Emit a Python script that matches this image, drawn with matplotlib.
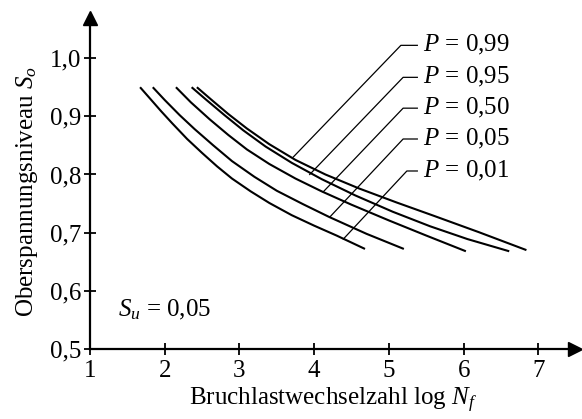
import matplotlib
matplotlib.use("Agg")
import matplotlib.pyplot as plt

# Woehler-Linien fuer verschiedene Ueberlebenswahrscheinlichkeiten
p_labels = ["0,01", "0,05", "0,50", "0,95", "0,99"]

x_p01 = [1.67, 1.80, 1.95, 2.10, 2.30, 2.50, 2.70, 2.90, 3.15, 3.40, 3.70, 4.00, 4.30, 4.68]
y_p01 = [0.950, 0.931, 0.909, 0.888, 0.861, 0.837, 0.814, 0.793, 0.771, 0.751, 0.730, 0.712, 0.695, 0.672]

x_p05 = [1.84, 2.00, 2.20, 2.40, 2.65, 2.90, 3.20, 3.50, 3.85, 4.20, 4.70, 5.20]
y_p05 = [0.950, 0.928, 0.902, 0.878, 0.850, 0.823, 0.796, 0.772, 0.749, 0.727, 0.698, 0.672]

x_p50 = [2.15, 2.35, 2.60, 2.85, 3.10, 3.40, 3.75, 4.10, 4.50, 5.00, 5.50, 6.03]
y_p50 = [0.950, 0.924, 0.895, 0.868, 0.843, 0.818, 0.793, 0.771, 0.748, 0.721, 0.695, 0.668]

x_p95 = [2.36, 2.55, 2.80, 3.05, 3.35, 3.70, 4.10, 4.55, 5.05, 5.55, 6.05, 6.61]
y_p95 = [0.950, 0.929, 0.902, 0.876, 0.848, 0.820, 0.792, 0.764, 0.736, 0.711, 0.689, 0.668]

x_p99 = [2.43, 2.62, 2.85, 3.10, 3.40, 3.75, 4.15, 4.60, 5.10, 5.60, 6.20, 6.84]
y_p99 = [0.950, 0.929, 0.904, 0.879, 0.852, 0.825, 0.800, 0.776, 0.752, 0.729, 0.701, 0.670]

curves = [(x_p01, y_p01), (x_p05, y_p05), (x_p50, y_p50), (x_p95, y_p95), (x_p99, y_p99)]

# Bezugslinien: Punkt auf Kurve, Knick, Beschriftungshoehe
leader_x = [4.39, 4.21, 4.12, 3.94, 3.72]
leader_y = [0.689, 0.727, 0.770, 0.800, 0.830]
elbow_x = [5.24, 5.19, 5.19, 5.19, 5.16]
label_y = [0.806, 0.861, 0.914, 0.967, 1.022]

x_ticks = [1, 2, 3, 4, 5, 6, 7]
y_ticks = [0.5, 0.6, 0.7, 0.8, 0.9, 1.0]
y_tick_labels = ["0,5", "0,6", "0,7", "0,8", "0,9", "1,0"]

plt.rcParams["font.family"] = "Liberation Serif"
plt.rcParams["mathtext.fontset"] = "custom"
plt.rcParams["mathtext.rm"] = "Liberation Serif"
plt.rcParams["mathtext.it"] = "Liberation Serif:italic"
FS = 18

W, H = 582, 419
fig = plt.figure(figsize=(W / 100, H / 100), dpi=100)
ax = fig.add_axes([90 / W, 70 / H, 485 / W, 331 / H])
ax.set_xlim(1, 7.49)
ax.set_ylim(0.5, 1.069)

for s in ("top", "right"):
    ax.spines[s].set_visible(False)
for s in ("left", "bottom"):
    ax.spines[s].set_linewidth(1.6)
ax.plot(1, 0.5, ">k", ms=10, transform=ax.get_yaxis_transform(), clip_on=False)
ax.plot(1, 1, "^k", ms=10, transform=ax.get_xaxis_transform(), clip_on=False)

ax.set_xticks(x_ticks)
ax.set_xticklabels([str(t) for t in x_ticks])
ax.set_yticks(y_ticks)
ax.set_yticklabels(y_tick_labels)
ax.tick_params(direction="inout", length=8, width=1.3, labelsize=FS)
ax.tick_params(axis="x", pad=4)
ax.tick_params(axis="y", pad=2)

for xs, ys in curves:
    ax.plot(xs, ys, color="black", lw=1.5, solid_capstyle="butt")

for lx, ly, ex, ty, lab in zip(leader_x, leader_y, elbow_x, label_y, p_labels):
    ax.plot([lx, ex, 5.38], [ly, ty, ty], color="black", lw=0.9)
    ax.text(5.46, ty, "$P$ = " + lab, fontsize=FS, va="center", ha="left")

ax.text(1.375, 0.567, "$S_u$ = 0,05", fontsize=FS, va="center", ha="left")

ax.set_xlabel("Bruchlastwechselzahl log $N_f$", fontsize=FS, labelpad=3)
fig.text(27 / W, 1 - 191 / H, "Oberspannungsniveau $S_o$", fontsize=FS,
         rotation=90, ha="center", va="center")

fig.savefig("out.png", dpi=100, facecolor="white")
